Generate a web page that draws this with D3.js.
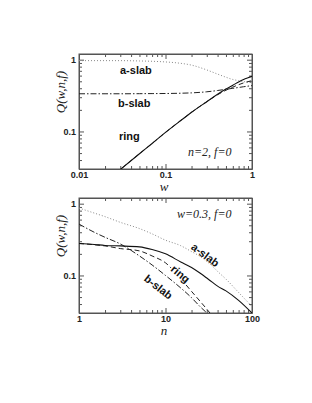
<!DOCTYPE html>
<html>
<head>
<meta charset="utf-8">
<script src="https://cdn.jsdelivr.net/npm/d3@7"></script>
<style>
  body { margin: 0; background: #fff; }
  .tick text { font-family: "Liberation Sans", Arial, sans-serif; font-weight: bold; font-size: 9px; fill: #222; }
  .ser { font-family: "Liberation Serif", "Times New Roman", serif; font-style: italic; fill: #222; }
  .lab { font-family: "Liberation Sans", Arial, sans-serif; font-weight: bold; font-size: 11px; fill: #111; }
</style>
</head>
<body>
<div id="chart"></div>
<script>
// top panel: Q vs w (n=2, f=0)
const wValues = [0.01, 0.02, 0.03, 0.05, 0.07, 0.1, 0.15, 0.2, 0.3, 0.4, 0.5, 0.6, 0.7, 0.8, 0.9, 1.0];
const topASlab = [0.97, 0.97, 0.97, 0.96, 0.95, 0.93, 0.89, 0.84, 0.72, 0.63, 0.57, 0.53, 0.51, 0.495, 0.485, 0.48];
const topBSlab = [0.335, 0.335, 0.335, 0.336, 0.337, 0.338, 0.341, 0.345, 0.357, 0.372, 0.387, 0.399, 0.41, 0.42, 0.428, 0.435];
const topRing = [0.0098, 0.0196, 0.0295, 0.049, 0.068, 0.097, 0.142, 0.185, 0.26, 0.33, 0.39, 0.44, 0.49, 0.53, 0.56, 0.586];
const topDash = [0.0098, 0.0196, 0.0295, 0.049, 0.068, 0.097, 0.142, 0.185, 0.26, 0.325, 0.375, 0.415, 0.448, 0.475, 0.495, 0.51];

// bottom panel: Q vs n (w=0.3, f=0)
const nValues = [1, 1.5, 2, 3, 5, 7, 10, 15, 20, 25, 30, 35, 40, 50, 70, 100];
const botASlab = [0.87, 0.74, 0.66, 0.55, 0.45, 0.38, 0.31, 0.26, 0.215, 0.185, 0.157, 0.134, 0.114, 0.089, 0.058, 0.037];
const botBSlab = [0.52, 0.40, 0.34, 0.275, 0.187, 0.14, 0.10, 0.067, 0.049, 0.037, 0.030, 0.024, 0.02, 0.014, 0.009, 0.005];
const botRing = [0.279, 0.27, 0.262, 0.258, 0.25, 0.23, 0.2, 0.154, 0.129, 0.108, 0.092, 0.08, 0.071, 0.061, 0.045, 0.030];
const botDash = [0.279, 0.268, 0.258, 0.237, 0.22, 0.187, 0.15, 0.09, 0.06, 0.044, 0.034, 0.027, 0.022, 0.015, 0.008, 0.004];

const qDomain = [0.03, 1.2];

const styles = {
  aslab: { stroke: "#888", dash: "1,2", width: 1 },
  bslab: { stroke: "#222", dash: "6,2,1.5,2", width: 1 },
  ring: { stroke: "#111", dash: null, width: 1.1 },
  dash: { stroke: "#222", dash: "5,3", width: 1 },
};

const svg = d3.select("#chart").append("svg")
  .attr("width", 312)
  .attr("height", 403);

function drawPanel(cfg) {
  const x = d3.scaleLog().domain(cfg.xDomain).range([79, 252]);
  const y = d3.scaleLog().domain(qDomain).range([cfg.bottom, cfg.top]);

  const g = svg.append("g");
  const clipId = "clip-" + cfg.id;
  g.append("defs").append("clipPath").attr("id", clipId)
    .append("rect")
    .attr("x", 79).attr("y", cfg.top)
    .attr("width", 173).attr("height", cfg.bottom - cfg.top);

  // minor + major ticks on all sides, pointing inward
  const isMajor = (v) => Math.abs(Math.log10(v) - Math.round(Math.log10(v))) < 1e-6;
  const xTicks = x.ticks();
  const yTicks = y.ticks();

  const axes = [
    { axis: d3.axisBottom(x), tr: `translate(0,${cfg.bottom})`, ticks: xTicks, labels: true },
    { axis: d3.axisTop(x), tr: `translate(0,${cfg.top})`, ticks: xTicks, labels: false },
    { axis: d3.axisLeft(y), tr: `translate(79,0)`, ticks: yTicks, labels: true },
    { axis: d3.axisRight(y), tr: `translate(252,0)`, ticks: yTicks, labels: false },
  ];
  axes.forEach((a) => {
    const major = a.ticks.filter(isMajor);
    const minor = a.ticks.filter((v) => !isMajor(v));
    g.append("g").attr("transform", a.tr)
      .call(a.axis.tickValues(minor).tickSizeInner(-3).tickSizeOuter(0).tickFormat(""))
      .call((s) => s.select(".domain").remove())
      .selectAll("line").attr("stroke", "#555");
    g.append("g").attr("transform", a.tr)
      .call(a.axis.tickValues(major).tickSizeInner(-5).tickSizeOuter(0)
        .tickPadding(3)
        .tickFormat(a.labels ? (v) => d3.format("~g")(v) : ""))
      .call((s) => s.select(".domain").attr("stroke", "#555"))
      .selectAll("line").attr("stroke", "#555");
  });

  // frame
  g.append("rect")
    .attr("x", 79).attr("y", cfg.top)
    .attr("width", 173).attr("height", cfg.bottom - cfg.top)
    .attr("fill", "none").attr("stroke", "#555").attr("stroke-width", 1);

  const line = d3.line()
    .x((d) => x(d[0]))
    .y((d) => y(d[1]))
    .curve(d3.curveMonotoneX);

  const plot = g.append("g").attr("clip-path", `url(#${clipId})`);
  cfg.series.forEach((s) => {
    const st = styles[s.style];
    plot.append("path")
      .datum(cfg.xValues.map((v, i) => [v, s.values[i]]))
      .attr("fill", "none")
      .attr("stroke", st.stroke)
      .attr("stroke-width", st.width)
      .attr("stroke-dasharray", st.dash)
      .attr("d", line);
  });

  // axis titles
  g.append("text").attr("class", "ser")
    .attr("font-size", 13)
    .attr("text-anchor", "middle")
    .attr("transform", `translate(65,${cfg.top + 38}) rotate(-90)`)
    .text("Q(w,n,f)");
  g.append("text").attr("class", "ser")
    .attr("font-size", 13)
    .attr("text-anchor", "middle")
    .attr("x", 164).attr("y", cfg.bottom + 22)
    .text(cfg.xTitle);
  g.append("text").attr("class", "ser")
    .attr("font-size", 12)
    .attr("x", cfg.note.x).attr("y", cfg.note.y)
    .text(cfg.note.text);

  // curve labels; a halo lets a label sit on its own line
  cfg.labels.forEach((l) => {
    g.append("text").attr("class", "lab")
      .attr("text-anchor", l.anchor || "start")
      .attr("transform", `translate(${l.x},${l.y}) rotate(${l.rot || 0})`)
      .attr("stroke", l.halo ? "#fff" : null)
      .attr("stroke-width", l.halo ? 3 : null)
      .attr("paint-order", "stroke")
      .text(l.text);
  });
}

drawPanel({
  id: "top",
  top: 54, bottom: 169,
  xDomain: [0.01, 1],
  xValues: wValues,
  xTitle: "w",
  series: [
    { style: "aslab", values: topASlab },
    { style: "bslab", values: topBSlab },
    { style: "dash", values: topDash },
    { style: "ring", values: topRing },
  ],
  note: { text: "n=2, f=0", x: 188, y: 156 },
  labels: [
    { text: "a-slab", x: 120, y: 74 },
    { text: "b-slab", x: 118, y: 107 },
    { text: "ring", x: 119, y: 140 },
  ],
});

drawPanel({
  id: "bot",
  top: 198, bottom: 313,
  xDomain: [1, 100],
  xValues: nValues,
  xTitle: "n",
  series: [
    { style: "aslab", values: botASlab },
    { style: "bslab", values: botBSlab },
    { style: "dash", values: botDash },
    { style: "ring", values: botRing },
  ],
  note: { text: "w=0.3, f=0", x: 177, y: 218 },
  labels: [
    { text: "a-slab", x: 203, y: 258, rot: 37, anchor: "middle" },
    { text: "ring", x: 178, y: 277, rot: 40, anchor: "middle", halo: true },
    { text: "b-slab", x: 156, y: 290, rot: 38, anchor: "middle" },
  ],
});
</script>
</body>
</html>
